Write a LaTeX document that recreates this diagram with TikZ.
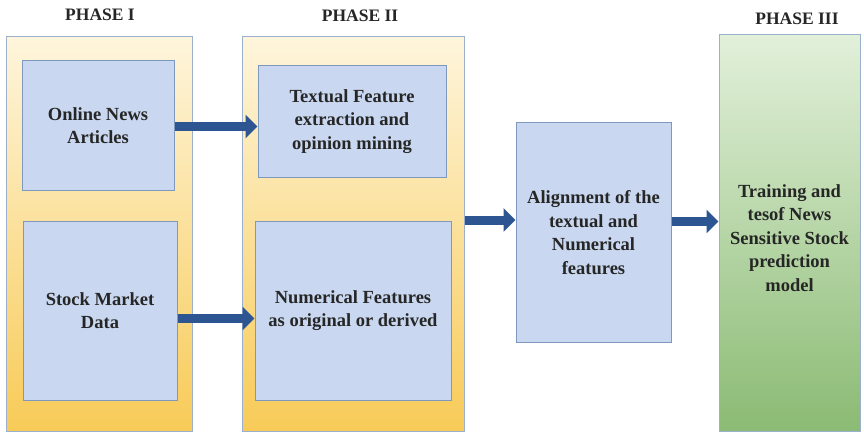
\documentclass[tikz,border=0pt]{standalone}
\usepackage{fontspec}
\setmainfont{Liberation Serif}
\usetikzlibrary{arrows.meta}
\definecolor{innerfill}{HTML}{C9D8F0}
\definecolor{innerdraw}{HTML}{7E98BE}
\definecolor{outerdraw}{HTML}{9AB0CC}
\definecolor{goldtop}{HTML}{FEF5DC}
\definecolor{goldbot}{HTML}{F8CB58}
\definecolor{greentop}{HTML}{E2F0DA}
\definecolor{greenbot}{HTML}{8BBB74}
\definecolor{arrowblue}{HTML}{2C5592}
\tikzset{
  boxfont/.style={font=\fontsize{18.5}{23.5}\selectfont\bfseries, text=black!85},
  phasebox/.style={draw=outerdraw, line width=1pt, top color=goldtop, bottom color=goldbot, minimum width=#1, minimum height=394pt, inner sep=0pt},
  innerbox/.style={draw=innerdraw, line width=1pt, fill=innerfill, align=center, inner sep=2pt, boxfont},
  phaselabel/.style={font=\fontsize{17.5}{19}\selectfont\bfseries, text=black!85},
  blockarrow/.style={draw=arrowblue, line width=9pt, -{Triangle[length=12pt,width=23pt]}, shorten >=0pt}
}
\begin{document}
\begin{tikzpicture}[x=1pt,y=-1pt]
\useasboundingbox[fill=white] (0,0) rectangle (864,433);
% phase boxes
\node[phasebox=186pt] (p1) at (99,234) {};
\node[phasebox=222pt] (p2) at (353,234) {};
\node[draw=outerdraw, line width=1pt, top color=greentop, bottom color=greenbot, minimum width=141pt, minimum height=396pt, inner sep=0pt] (p3) at (789.5,233) {};
\node[align=center, boxfont] (p3text) at (789.5,238)
  {Training and\\tesof News\\Sensitive Stock\\prediction\\model};
% labels
\node[phaselabel] (l1) at (100,15) {PHASE I};
\node[phaselabel] (l2) at (360,16) {PHASE II};
\node[phaselabel] (l3) at (797,19) {PHASE III};
% inner boxes
\node[innerbox, minimum width=152pt, minimum height=129pt] (online) at (98,125.5) {Online News\\Articles};
\node[innerbox, minimum width=154pt, minimum height=179pt] (stock) at (100,310.5) {Stock Market\\Data};
\node[innerbox, minimum width=188pt, minimum height=111pt] (textual) at (352,121.5) {Textual Feature\\extraction and\\opinion mining};
\node[innerbox, minimum width=196pt, minimum height=179pt] (numer) at (353,310.5) {Numerical Features\\as original or derived};
\node[innerbox, minimum width=155pt, minimum height=219pt] (align) at (593.5,232.5) {Alignment of the\\textual and\\Numerical\\features};
% arrows
\coordinate (a1s) at ([yshift=-1pt]online.east);
\coordinate (a2s) at ([yshift=-8pt]stock.east);
\coordinate (a3s) at ([yshift=14pt]p2.east);
\coordinate (a4s) at ([yshift=11pt]align.east);
\draw[blockarrow] (a1s) -- (a1s -| textual.west);
\draw[blockarrow] (a2s) -- (a2s -| numer.west);
\draw[blockarrow] (a3s) -- (a3s -| align.west);
\draw[blockarrow] (a4s) -- (a4s -| p3.west);
\end{tikzpicture}
\end{document}
